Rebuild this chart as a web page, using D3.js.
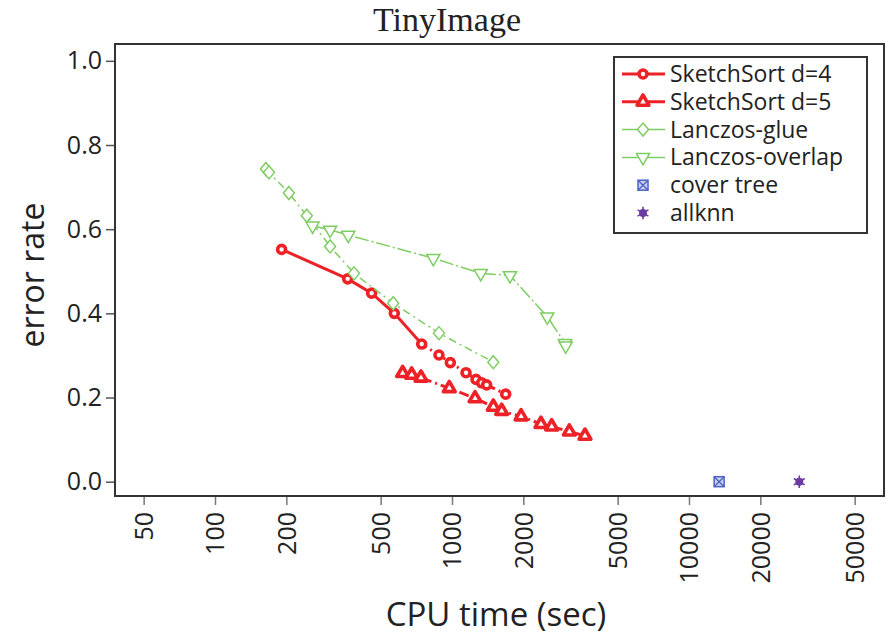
<!DOCTYPE html>
<html>
<head>
<meta charset="utf-8">
<script src="https://cdn.jsdelivr.net/npm/d3@7"></script>
<style>
  body { margin: 0; background: #fff; }
  text { font-family: "Open Sans", sans-serif; fill: #222; }
</style>
</head>
<body>
<div id="chart"></div>
<script>
// values
const sketch4Time = [191, 363, 458, 571, 745, 881, 984, 1146, 1263, 1334, 1400, 1685];
const sketch4Err  = [0.552, 0.482, 0.448, 0.400, 0.327, 0.301, 0.283, 0.259, 0.243, 0.235, 0.230, 0.208];
const sketch5Time = [619, 676, 740, 974, 1251, 1494, 1621, 1956, 2374, 2634, 3127, 3640];
const sketch5Err  = [0.258, 0.254, 0.247, 0.222, 0.198, 0.178, 0.168, 0.155, 0.137, 0.131, 0.119, 0.109];
const glueTime    = [164, 169, 205, 244, 306, 386, 565, 881, 1494];
const glueErr     = [0.743, 0.735, 0.686, 0.632, 0.559, 0.495, 0.424, 0.353, 0.284];
const overlapTime = [258, 306, 365, 834, 1322, 1757, 2524, 2998, 3020];
const overlapErr  = [0.608, 0.598, 0.586, 0.531, 0.495, 0.490, 0.392, 0.329, 0.323];
const coverTime   = [13400];
const coverErr    = [0.0];
const allknnTime  = [29200];
const allknnErr   = [0.0];

const xTicks = [50, 100, 200, 500, 1000, 2000, 5000, 10000, 20000, 50000];
const yTicks = [0, 0.2, 0.4, 0.6, 0.8, 1.0];
const seriesNames = ["SketchSort d=4", "SketchSort d=5", "Lanczos-glue", "Lanczos-overlap", "cover tree", "allknn"];

const red = "#ec2227", green = "#7fcd62", blue = "#4d62c4", purple = "#6b3aa3";

const zip = (xs, ys) => xs.map((x, i) => ({ t: x, e: ys[i] }));

const series = [
  { name: seriesNames[0], pts: zip(sketch4Time, sketch4Err), color: red, width: 3, marker: "circle", solidTo: 4, dash: "6,4,2,4" },
  { name: seriesNames[1], pts: zip(sketch5Time, sketch5Err), color: red, width: 3, marker: "tri", solidTo: 0, dash: "10,4,2,4" },
  { name: seriesNames[2], pts: zip(glueTime, glueErr), color: green, width: 1.5, marker: "diamond", solidTo: 0, dash: "8,4,2,4" },
  { name: seriesNames[3], pts: zip(overlapTime, overlapErr), color: green, width: 1.5, marker: "triDown", solidTo: 0, dash: "14,3,2,3" },
  { name: seriesNames[4], pts: zip(coverTime, coverErr), color: blue, width: 0, marker: "boxX" },
  { name: seriesNames[5], pts: zip(allknnTime, allknnErr), color: purple, width: 0, marker: "star" }
];

const width = 889, height = 635;
const plot = { left: 115, right: 884, top: 44, bottom: 496 };

const svg = d3.select("#chart").append("svg")
  .attr("width", width)
  .attr("height", height);

const x = d3.scaleLog().domain([37.85, 66500]).range([plot.left, plot.right]);
const y = d3.scaleLinear().domain([-0.034, 1.04]).range([plot.bottom, plot.top]);

// title
svg.append("text")
  .attr("x", 447).attr("y", 31)
  .attr("text-anchor", "middle")
  .style("font-family", "'Liberation Serif', serif")
  .style("font-size", "34px")
  .text("TinyImage");

// axes
const xAxis = svg.append("g")
  .attr("transform", `translate(0,${plot.bottom})`)
  .call(d3.axisBottom(x).tickValues(xTicks).tickFormat(d3.format("d")).tickSize(9).tickSizeOuter(0));
xAxis.select(".domain").remove();
xAxis.selectAll(".tick line").attr("stroke", "#777").attr("stroke-width", 1.5);
xAxis.selectAll(".tick text")
  .attr("transform", "rotate(-90)")
  .attr("text-anchor", "end")
  .attr("x", -16)
  .attr("y", 0)
  .attr("dy", "0.35em")
  .style("font-size", "25px")
  .style("font-family", "'Open Sans', sans-serif")
  .attr("fill", "#222");

const yAxis = svg.append("g")
  .attr("transform", `translate(${plot.left},0)`)
  .call(d3.axisLeft(y).tickValues(yTicks).tickFormat(d3.format(".1f")).tickSize(9).tickSizeOuter(0));
yAxis.select(".domain").remove();
yAxis.selectAll(".tick line").attr("stroke", "#555").attr("stroke-width", 1.5);
yAxis.selectAll(".tick text")
  .attr("x", -13)
  .style("font-size", "25px")
  .style("font-family", "'Open Sans', sans-serif")
  .attr("fill", "#222");

// frame
svg.append("rect")
  .attr("x", plot.left).attr("y", plot.top)
  .attr("width", plot.right - plot.left).attr("height", plot.bottom - plot.top)
  .attr("fill", "none").attr("stroke", "#333").attr("stroke-width", 2);

svg.append("text")
  .attr("transform", "translate(44,275) rotate(-90)")
  .attr("text-anchor", "middle")
  .style("font-size", "32px")
  .text("error rate");

svg.append("text")
  .attr("x", 496).attr("y", 626)
  .attr("text-anchor", "middle")
  .style("font-size", "33px")
  .text("CPU time (sec)");

// markers
function drawMarker(g, kind, color) {
  if (kind === "circle") {
    g.append("circle").attr("r", 4).attr("fill", "#fff").attr("stroke", color).attr("stroke-width", 3.6);
  } else if (kind === "tri") {
    g.append("path").attr("d", d3.symbol(d3.symbolTriangle, 60)())
      .attr("fill", "#fff").attr("stroke", color).attr("stroke-width", 3.6).attr("stroke-linejoin", "round");
  } else if (kind === "diamond") {
    g.append("path").attr("d", "M0,-6.5L5.5,0L0,6.5L-5.5,0Z")
      .attr("fill", "#fff").attr("stroke", color).attr("stroke-width", 1.5);
  } else if (kind === "triDown") {
    g.append("path").attr("d", d3.symbol(d3.symbolTriangle, 75)()).attr("transform", "rotate(180)")
      .attr("fill", "#fff").attr("stroke", color).attr("stroke-width", 1.5);
  } else if (kind === "boxX") {
    g.append("rect").attr("x", -5).attr("y", -5).attr("width", 10).attr("height", 10)
      .attr("fill", "#c9d0ef").attr("stroke", color).attr("stroke-width", 1.5);
    g.append("path").attr("d", "M-5,-5L5,5M5,-5L-5,5").attr("stroke", color).attr("stroke-width", 1.3);
  } else if (kind === "star") {
    g.append("path").attr("d", d3.symbol(d3.symbolAsterisk, 110)())
      .attr("fill", "none").attr("stroke", color).attr("stroke-width", 1.6);
    g.append("circle").attr("r", 4).attr("fill", color);
  }
}

const line = d3.line().x(d => x(d.t)).y(d => y(d.e));

series.forEach(s => {
  const g = svg.append("g");
  if (s.width > 0) {
    if (s.solidTo > 0) {
      g.append("path").attr("d", line(s.pts.slice(0, s.solidTo + 1)))
        .attr("fill", "none").attr("stroke", s.color).attr("stroke-width", s.width);
    }
    g.append("path").attr("d", line(s.pts.slice(s.solidTo)))
      .attr("fill", "none").attr("stroke", s.color).attr("stroke-width", s.width)
      .attr("stroke-dasharray", s.dash);
  }
  s.pts.forEach(p => {
    drawMarker(g.append("g").attr("transform", `translate(${x(p.t)},${y(p.e)})`), s.marker, s.color);
  });
});

// legend
const legend = svg.append("g");
legend.append("rect")
  .attr("x", 614).attr("y", 57).attr("width", 253).attr("height", 176)
  .attr("fill", "#fff").attr("stroke", "#333").attr("stroke-width", 2);

series.forEach((s, i) => {
  const cy = 74 + i * 27.8;
  const row = legend.append("g");
  if (s.width > 0) {
    row.append("line").attr("x1", 622).attr("x2", 665).attr("y1", cy).attr("y2", cy)
      .attr("stroke", s.color).attr("stroke-width", s.width);
  }
  drawMarker(row.append("g").attr("transform", `translate(643,${cy})`), s.marker, s.color);
  row.append("text")
    .attr("x", 670).attr("y", cy)
    .attr("dy", "0.35em")
    .style("font-size", "23px")
    .text(s.name);
});
</script>
</body>
</html>
